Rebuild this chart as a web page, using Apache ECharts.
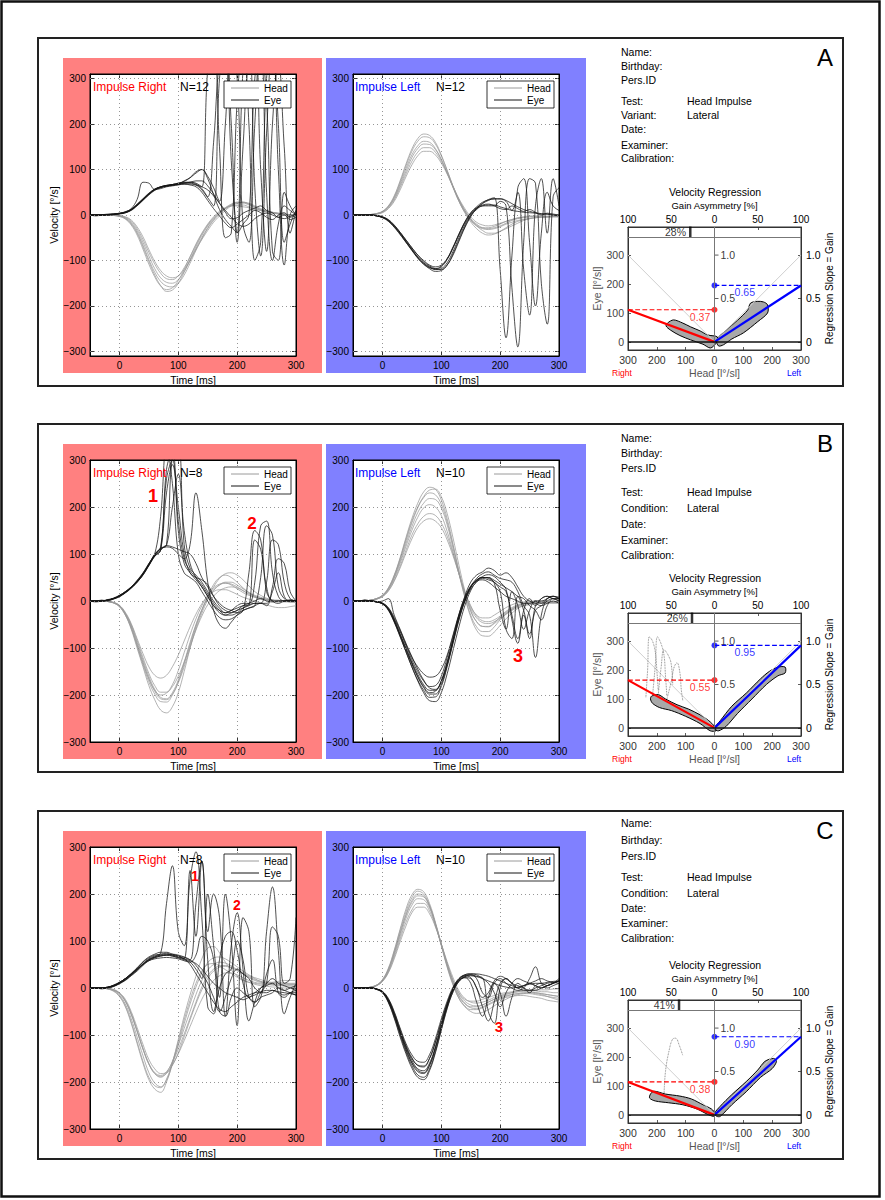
<!DOCTYPE html>
<html>
<head>
<meta charset="utf-8">
<title>Head impulse test - velocity traces and regression</title>
<script src="https://cdn.jsdelivr.net/npm/echarts@6/dist/echarts.min.js"></script>
<style>
  html, body { margin: 0; padding: 0; background: #fff; }
  #main { width: 885px; height: 1200px; }
</style>
</head>
<body>
<div id="main"></div>
<script>
// time base of every velocity trace [ms]
const T = [-50,-40,-30,-20,-10,0, 10,20,30,40,50,60, 70,80,90,100,110,120, 130,140,150,160,170,180, 190,200,210,220,230,240, 250,260,270,280,290,300];

// ---- panel A ----
const headAR = [
  [0,0,0,0,-1,-3, -8,-20,-40,-70,-102,-132, -155,-168,-165,-150,-126,-98, -70,-45,-24,-8,4,14, 20,22,22,18,14,10, 6,4,3,2,0,0],
  [0,0,0,0,-1,-2, -6,-16,-34,-60,-90,-118, -138,-148,-150,-142,-124,-100, -74,-50,-28,-10,4,14, 22,26,26,22,16,10, 8,5,4,2,1,0],
  [0,0,0,0,0,-2, -5,-13,-30,-54,-82,-108, -128,-140,-142,-134,-116,-92, -66,-42,-22,-6,6,16, 24,28,28,24,18,12, 8,5,3,1,0,-2],
  [0,0,0,0,-1,-2, -7,-18,-38,-66,-98,-126, -146,-156,-158,-150,-132,-106, -78,-52,-30,-12,2,14, 22,28,28,24,18,12, 7,4,2,0,0,0],
  [0,0,0,0,0,-1, -4,-11,-26,-48,-76,-102, -122,-134,-138,-134,-120,-100, -76,-54,-34,-16,-2,10, 20,26,28,26,20,14, 9,6,3,1,0,-2],
  [0,0,0,0,-1,-3, -9,-22,-44,-75,-108,-136, -156,-164,-160,-144,-120,-92, -64,-40,-20,-4,8,16, 20,20,18,16,12,10, 8,6,4,2,0,0]
];
const eyeAR = [
  [0,0,0,1,2,3, 5,10,20,32,44,54, 60,63,65,67,68,68, 66,62,55,42,26,10, -5,-18,-25,-20,-8,0, 4,0,-5,-8,-3,2],
  [0,0,1,1,2,4, 6,12,22,34,46,56, 62,65,67,70,72,72, 68,58,40,160,340,380, 200,-60,150,350,380,100, -80,200,340,150,-40,10],
  [0,0,0,0,1,3, 5,11,21,33,45,55, 61,64,66,68,75,82, 92,100,80,45,12,-10, -25,-38,-20,0,300,360, 50,-100,-20,20,10,0],
  [0,-2,0,2,2,3, 7,13,24,36,48,57, 62,65,67,69,71,72, 70,62,320,380,150,-50, -40,250,380,200,-100,-60, 300,380,100,-110,0,20],
  [0,0,0,1,2,4, 7,14,34,72,70,56, 58,62,64,66,68,66, 62,50,32,14,-2,-18, -28,-20,-10,0,10,5, -5,-10,0,5,-5,0],
  [0,0,0,0,1,2, 5,11,22,34,46,56, 61,64,66,68,70,72, 75,75,64,46,26,6, -8,-6,4,10,15,20, 10,5,-5,0,-10,-5],
  [0,0,0,0,1,3, 6,12,23,35,47,57, 62,65,67,70,74,82, 95,100,85,60,30,200, 380,300,-20,-60,200,380, 250,-80,-100,50,20,0],
  [0,0,0,1,2,3, 6,12,22,34,46,56, 61,64,66,68,70,70, 66,55,38,20,300,380, 120,-40,320,380,60,-90, 180,380,200,-60,-20,10]
];
const headAL = [
  [0,0,0,1,3,8, 20,42,75,112,145,168, 178,175,160,132,98,62, 30,5,-15,-30,-40,-44, -42,-36,-28,-20,-14,-10, -8,-6,-5,-4,-3,-2],
  [0,0,0,1,3,7, 18,38,68,102,132,152, 162,160,146,122,92,60, 30,6,-12,-24,-30,-32, -30,-26,-20,-16,-12,-10, -8,-6,-5,-5,-4,-4],
  [0,0,0,1,2,6, 15,33,60,90,118,138, 148,148,138,118,92,62, 34,10,-8,-20,-28,-30, -28,-24,-18,-12,-8,-6, -4,-4,-4,-4,-4,-4],
  [0,0,0,1,3,7, 17,36,64,96,126,146, 156,155,144,122,94,62, 32,8,-10,-22,-28,-28, -25,-20,-14,-10,-6,-4, -2,-2,-2,-3,-3,-3],
  [0,0,0,0,2,5, 14,30,55,84,110,130, 140,140,132,114,90,62, 36,14,-4,-16,-22,-24, -22,-18,-14,-10,-7,-5, -4,-3,-3,-3,-3,-3],
  [0,0,0,1,3,8, 19,40,72,108,140,162, 172,170,156,130,98,64, 34,10,-10,-24,-34,-40, -40,-36,-30,-24,-18,-12, -8,-6,-4,-3,-2,-2]
];
const eyeAL = [
  [0,0,0,0,-2,-5, -12,-25,-40,-58,-75,-92, -105,-114,-120,-118,-105,-80, -50,-22,0,15,25,32, 36,36,32,25,18,12, 8,5,3,2,0,0],
  [0,0,0,0,-1,-4, -10,-22,-38,-55,-72,-88, -102,-112,-118,-120,-110,-88, -58,-28,-4,14,26,34, 38,-120,-270,-90,60,80, -60,-200,-40,50,20,10],
  [0,0,0,0,-2,-6, -14,-27,-43,-60,-78,-95, -108,-118,-124,-122,-110,-85, -55,-26,-2,12,20,20, 20,30,20,-160,-290,-60, 80,70,-150,-240,40,60],
  [0,0,0,0,-2,-5, -13,-26,-42,-60,-77,-93, -106,-115,-119,-114,-98,-72, -42,-15,5,18,28,33, 35,35,30,10,50,-120, -220,20,80,-40,80,20],
  [0,0,0,0,-1,-4, -11,-23,-38,-55,-72,-88, -100,-110,-114,-110,-96,-72, -44,-18,2,14,20,22, 22,18,14,10,8,6, 5,4,2,2,0,-2],
  [0,0,0,0,-2,-5, -12,-24,-40,-58,-76,-94, -108,-116,-118,-112,-96,-70, -42,-16,4,16,22,24, 20,14,12,20,14,8, 12,6,0,4,2,0]
];

// ---- panel B ----
const headBR = [
  [0,0,0,-1,-4,-12, -30,-60,-100,-140,-180,-210, -232,-238,-225,-195,-150,-100, -55,-20,10,35,50,55, 50,40,28,18,10,5, 2,0,-2,-2,-2,-2],
  [0,0,0,-1,-3,-10, -26,-52,-88,-125,-160,-188, -205,-208,-195,-168,-130,-88, -50,-18,8,30,48,58, 60,55,45,32,20,12, 6,2,0,0,-2,-2],
  [0,0,0,-1,-4,-11, -28,-56,-94,-132,-166,-190, -200,-196,-178,-148,-110,-72, -38,-10,12,28,36,38, 34,26,18,12,8,5, 3,2,0,0,0,0],
  [0,0,0,-1,-3,-9, -24,-48,-80,-112,-140,-158, -164,-158,-140,-115,-85,-55, -28,-6,10,20,24,24, 20,14,8,4,0,-4, -8,-12,-14,-14,-12,-10],
  [0,0,0,-1,-4,-12, -30,-58,-96,-136,-172,-198, -214,-215,-200,-172,-134,-92, -52,-20,6,24,34,38, 36,30,22,14,8,4, 2,0,0,0,0,0],
  [0,0,0,-1,-3,-10, -26,-50,-84,-120,-154,-180, -194,-194,-182,-160,-130,-96, -62,-32,-8,10,22,28, 30,28,22,16,10,6, 4,2,0,0,-2,-2],
  [0,0,0,-1,-4,-11, -28,-55,-92,-130,-165,-192, -208,-210,-198,-174,-140,-100, -60,-26,2,22,34,40, 40,34,26,18,12,8, 4,2,2,0,0,-2]
];
const eyeBR = [
  [0,0,0,2,5,10, 18,28,40,56,76,96, 108,280,320,150,80,60, 45,30,10,-10,-25,-30, -25,-20,-10,-5,0,5, 0,-2,0,0,2,0],
  [0,-2,0,3,6,12, 20,30,44,60,80,100, 180,330,250,100,60,50, 40,20,0,-20,-35,-40, -38,-30,-20,60,150,130, 20,0,-5,0,2,0],
  [0,0,2,0,5,11, 19,29,42,58,78,98, 112,120,310,330,120,70, 55,40,20,0,-15,-25, -20,-10,-5,-5,40,160, 170,60,10,0,0,0],
  [0,0,0,2,5,10, 18,28,41,57,77,97, 110,115,112,100,90,120, 230,150,40,-20,-50,-58, -45,-30,-20,-15,-10,50, 160,140,30,5,0,0],
  [0,0,0,1,4,9, 17,27,40,55,75,95, 108,230,290,200,100,60, 50,45,35,10,-10,-20, -25,-20,-15,-10,-5,-5, 40,130,120,40,5,0],
  [0,0,0,2,6,12, 20,30,42,58,78,100, 115,260,300,170,90,65, 50,35,15,-5,-20,-30, -30,-25,-15,-8,-5,-5, -10,30,90,80,20,0],
  [0,-1,0,2,5,11, 19,29,43,59,79,99, 112,118,200,270,150,80, 50,30,10,-10,-20,-25, -20,-15,-10,-8,130,110, 30,0,0,0,0,0],
  [0,0,0,2,5,10, 18,28,40,56,76,96, 108,118,115,110,105,100, 80,50,30,10,-5,-15, -20,-25,-20,-15,-10,-5, -5,20,60,10,0,0]
];
const headBL = [
  [0,0,0,2,5,12, 28,55,92,135,175,208, 232,242,238,215,175,120, 62,10,-30,-55,-65,-65, -55,-40,-28,-18,-10,-6, -4,-2,-2,-2,-2,-2],
  [0,0,0,2,5,12, 26,52,88,128,166,198, 220,230,226,206,168,118, 64,16,-22,-44,-54,-55, -48,-38,-28,-20,-14,-10, -8,-6,-5,-4,-4,-4],
  [0,0,0,1,4,10, 24,48,80,116,150,178, 198,205,200,182,148,104, 58,16,-16,-36,-46,-48, -44,-36,-26,-18,-12,-8, -6,-4,-4,-4,-4,-4],
  [0,0,0,1,4,9, 21,42,70,102,132,156, 170,175,170,156,130,96, 58,20,-10,-32,-42,-44, -40,-32,-22,-14,-8,-4, -2,-2,-2,-2,-2,-2],
  [0,0,0,2,5,11, 25,50,84,122,158,188, 208,218,216,198,162,112, 58,8,-34,-62,-74,-75, -66,-52,-38,-26,-16,-10, -6,-4,-2,-2,-2,-2],
  [0,0,0,1,4,10, 22,44,74,108,140,164, 180,186,182,166,138,100, 58,18,-12,-30,-36,-36, -30,-22,-14,-8,-4,-2, 0,0,0,0,-2,-2],
  [0,0,0,2,5,12, 27,54,90,132,170,200, 222,236,238,222,186,134, 76,22,-20,-44,-54,-54, -46,-34,-24,-16,-10,-6, -4,-4,-4,-4,-4,-4]
];
const eyeBL = [
  [0,0,0,0,-2,-5, -15,-38,-65,-95,-125,-150, -170,-182,-180,-160,-120,-75, -30,5,30,42,45,40, 30,20,10,5,0,-5, -5,0,0,5,10,8],
  [0,0,2,0,-2,-6, -18,-42,-72,-102,-132,-160, -182,-195,-192,-170,-130,-82, -35,0,25,40,48,45, 38,-20,-60,20,-10,-60, -20,0,-5,5,10,5],
  [0,0,0,0,-2,-6, -20,-45,-76,-108,-140,-168, -190,-205,-204,-182,-140,-90, -40,0,28,45,50,50, 40,30,20,-30,-80,-20, 5,-10,5,10,5,5],
  [0,0,0,0,-1,-4, -14,-35,-62,-92,-120,-140, -155,-162,-160,-145,-115,-72, -28,8,32,44,50,48, 40,20,-60,-80,10,-20, -70,-20,-10,0,5,0],
  [0,0,0,0,-2,-6, -18,-44,-75,-108,-140,-170, -195,-212,-214,-195,-155,-105, -55,-10,22,42,52,56, 52,40,25,-40,-90,-30, -80,-10,5,10,5,0],
  [0,0,0,0,-2,0, 5,-30,-60,-90,-118,-145, -168,-185,-188,-172,-135,-88, -40,0,30,48,58,62, 55,48,45,40,20,-10, -30,-120,-30,5,10,5],
  [0,0,0,0,-2,-6, -18,-42,-72,-104,-134,-162, -184,-198,-198,-178,-136,-84, -34,4,30,44,50,50, 44,36,28,20,10,5, -10,-20,-40,-10,5,5],
  [0,0,2,0,-1,-5, -16,-40,-70,-100,-130,-156, -178,-190,-190,-170,-130,-82, -30,10,40,55,62,70, 65,55,60,50,30,10, 0,-5,-10,-5,0,-5]
];

// ---- panel C ----
const headCR = [
  [0,0,0,-2,-7,-18, -40,-75,-118,-160,-195,-215, -222,-200,-160,-110,-60,-15, 25,62,85,88,75,55, 38,26,18,12,8,5, 4,2,2,0,0,0],
  [0,0,0,-2,-5,-15, -34,-65,-104,-144,-180,-202, -210,-196,-162,-120,-76,-34, 2,32,54,64,66,62, 54,45,36,28,20,14, 10,8,6,4,4,2],
  [0,0,0,-1,-4,-12, -28,-56,-92,-130,-162,-182, -190,-180,-156,-122,-86,-50, -14,16,38,50,55,53, 47,39,30,22,16,12, 10,8,8,8,8,8],
  [0,0,0,-1,-3,-10, -24,-50,-84,-120,-152,-172, -182,-180,-164,-138,-104,-68, -34,-4,20,36,44,46, 43,37,30,24,18,14, 12,10,10,10,10,10],
  [0,0,0,-2,-6,-17, -38,-72,-114,-156,-190,-208, -212,-194,-158,-114,-68,-26, 10,36,50,52,47,39, 31,23,16,12,10,8, 8,6,6,6,6,6],
  [0,0,0,-1,-4,-12, -28,-56,-92,-130,-162,-182, -188,-182,-164,-140,-112,-82, -52,-24,-2,16,26,32, 32,28,22,16,12,10, 10,12,14,16,16,16],
  [0,0,0,-1,-4,-11, -27,-54,-90,-128,-160,-180, -186,-178,-158,-130,-98,-64, -30,2,26,40,47,48, 44,38,32,26,22,18, 14,12,12,10,8,8]
];
const eyeCR = [
  [0,0,0,1,4,10, 18,28,40,52,62,68, 72,74,70,66,62,50, 30,10,-10,-30,-45,-50, -40,-30,-20,-15,-10,-8, -5,-5,-8,-10,-12,-15],
  [0,0,0,2,5,11, 20,30,42,55,64,70, 74,180,260,120,90,230, 290,150,-40,-55,60,110, 120,80,10,-20,-10,0, 10,20,10,5,0,-5],
  [0,0,-2,1,6,12, 20,30,40,50,60,66, 70,72,70,68,65,60, 180,270,120,200,150,-60, 90,160,40,-70,-30,0, 5,10,0,-5,0,5],
  [0,0,0,1,4,10, 17,27,38,50,60,66, 70,70,68,64,60,55, 40,20,200,90,-20,200, 100,-80,150,120,-40,-20, 30,60,-10,-20,-10,-5],
  [0,0,0,0,3,9, 16,26,36,48,58,64, 68,70,72,70,66,60, 48,30,10,-20,-50,-20, 20,40,30,20,0,-10, 120,215,80,-55,-20,10],
  [0,0,0,2,5,12, 20,31,43,56,66,72, 76,76,72,68,62,250, 110,270,60,-50,0,30, 40,100,60,-20,-30,-10, 10,130,110,10,20,150],
  [0,0,0,1,4,10, 18,28,39,51,60,65, 68,70,68,65,62,58, 52,40,25,10,0,-10, -15,-20,-25,-20,-15,-10, -10,-5,-10,-15,-10,-10],
  [0,0,0,2,6,12, 20,30,40,50,58,62, 64,65,64,62,58,55, 70,110,100,60,-50,-60, -20,0,-10,-20,-30,-20, -15,-10,0,-5,-10,-15]
];
const headCL = [
  [0,0,0,2,6,18, 42,80,125,168,198,210, 205,180,140,92,46,8, -22,-40,-50,-54,-52,-46, -38,-30,-24,-18,-14,-12, -10,-10,-12,-14,-16,-18],
  [0,0,0,2,6,16, 38,74,116,156,186,200, 196,174,136,92,48,10, -18,-34,-42,-44,-40,-34, -28,-22,-18,-14,-12,-10, -10,-12,-14,-18,-22,-26],
  [0,0,0,1,5,14, 34,66,104,140,166,180, 180,164,132,92,52,16, -12,-28,-36,-38,-36,-30, -24,-18,-14,-10,-8,-6, -6,-6,-8,-8,-10,-10],
  [0,0,0,1,5,14, 32,62,98,132,160,172, 172,158,130,94,56,22, -6,-22,-30,-32,-30,-26, -20,-16,-12,-10,-8,-8, -8,-10,-12,-14,-16,-18],
  [0,0,0,2,6,17, 40,78,122,162,192,206, 200,176,136,90,44,6, -22,-38,-46,-46,-42,-36, -30,-24,-20,-18,-16,-16, -18,-20,-22,-26,-28,-30],
  [0,0,0,1,5,15, 36,70,110,148,176,190, 188,170,136,94,52,16, -10,-24,-28,-28,-24,-20, -16,-12,-10,-8,-6,-4, -4,-4,-4,-4,-2,-2],
  [0,0,0,2,6,16, 38,74,116,154,182,196, 194,174,138,94,50,12, -16,-32,-40,-40,-36,-30, -24,-20,-16,-14,-12,-12, -12,-14,-16,-18,-20,-22]
];
const eyeCL = [
  [0,0,0,0,-2,-8, -25,-55,-92,-125,-150,-165, -168,-150,-115,-72,-32,-2, 18,26,28,25,20,15, 10,5,2,0,2,5, 8,10,10,12,14,15],
  [0,0,0,0,-3,-10, -30,-62,-100,-136,-165,-185, -190,-172,-135,-88,-42,-8, 14,22,20,0,-40,-70, -30,10,20,10,0,5, 10,15,20,15,12,10],
  [0,0,0,0,-2,-9, -28,-58,-95,-130,-158,-175, -180,-164,-128,-82,-38,-4, 16,22,10,-30,-60,-20, 10,-10,-60,-20,10,0, -10,5,10,5,10,15],
  [0,0,0,0,-2,-7, -22,-50,-85,-118,-142,-156, -158,-142,-108,-66,-28,2, 20,28,30,30,28,25, 20,15,10,5,0,-5, -5,0,5,10,12,14],
  [0,0,0,0,-3,-10, -31,-64,-104,-140,-170,-190, -195,-176,-138,-90,-44,-8, 14,24,28,20,-10,-20, 10,20,10,0,-5,0, 20,45,10,0,5,10],
  [0,0,0,0,-2,-8, -26,-56,-92,-126,-154,-172, -176,-160,-125,-80,-36,0, 20,28,30,28,20,10, -10,-40,-10,10,20,15, 10,5,0,5,10,15],
  [0,0,0,0,-2,-9, -27,-58,-96,-132,-160,-178, -182,-165,-128,-82,-38,-4, 18,26,22,0,-20,-10, 15,25,20,10,5,0, -5,-5,0,5,10,15],
  [0,0,0,0,-2,-8, -24,-52,-88,-122,-148,-164, -166,-150,-116,-74,-34,-2, 16,24,26,24,22,-50, -75,0,20,10,0,5, 10,5,0,5,10,20]
];

// regression results per panel (A, B, C)
const gainRight = [0.37, 0.55, 0.38];
const gainLeft = [0.65, 0.95, 0.90];
const asymmetry = [28, 26, 41];
const trialsRight = [12, 8, 8];
const trialsLeft = [12, 10, 10];

// contour outlines of the head/eye velocity clouds [head, eye]
const cloudAR = [[-163,65],[-142,76],[-110,65],[-83,52],[-50,38],[-24,24],[10,17],[5,-5],[-14,-21],[-40,-8],[-83,7],[-120,22],[-153,41],[-168,55]];
const cloudAL = [[7,7],[40,40],[80,75],[115,110],[125,134],[148,140],[170,138],[184,128],[184,100],[150,70],[100,31],[60,10],[31,-10],[14,-14]];
const cloudBR = [[-218,110],[-195,115],[-170,100],[-130,80],[-90,65],[-50,45],[-20,25],[0,5],[5,-10],[-15,-10],[-50,15],[-100,40],[-150,60],[-190,70],[-215,85],[-222,100]];
const cloudBL = [[0,0],[20,25],[60,75],[110,120],[160,170],[190,195],[220,210],[245,210],[245,190],[220,180],[180,150],[130,100],[80,50],[40,5],[15,-10],[5,-8]];
const cloudCR = [[-222,72],[-210,82],[-170,72],[-120,65],[-80,55],[-40,35],[-10,20],[2,5],[0,-5],[-20,0],[-60,20],[-110,35],[-160,42],[-205,48],[-225,58]];
const cloudCL = [[0,5],[20,30],[60,70],[110,115],[150,155],[175,185],[205,195],[215,185],[200,160],[160,130],[110,80],[60,35],[20,-5],[8,-5]];

// dotted saccade loops in the regression plots
const loopsB = [
  [[-238,106],[-232,200],[-226,315],[-215,300],[-205,260],[-200,200],[-195,130]],
  [[-215,110],[-205,220],[-198,315],[-185,290],[-175,250],[-170,180],[-165,110]],
  [[-195,115],[-185,210],[-175,270],[-160,250],[-150,220],[-145,150]],
  [[-165,100],[-150,160],[-140,210],[-130,225],[-120,190],[-115,130],[-110,95]]
];
const loopsC = [
  [[-175,70],[-170,150],[-158,220],[-145,262],[-135,265],[-122,240],[-110,205]]
];

const FONT = "'Liberation Sans', Arial, Helvetica, sans-serif";
const DY = [0, 386, 773];
const LETTERS = ['A', 'B', 'C'];
const HEAD_COL = '#9a9a9a', EYE_COL = '#151515';

const panels = [
  {heads: [headAR, headAL], eyes: [eyeAR, eyeAL], lim: 310, clouds: [cloudAR, cloudAL], loops: [], mode: 'Variant:',
   infoY: [52, 66, 80, 101, 115, 129, 145, 158], marks: []},
  {heads: [headBR, headBL], eyes: [eyeBR, eyeBL], lim: 300, clouds: [cloudBR, cloudBL], loops: loopsB, mode: 'Condition:',
   infoY: [438, 453, 468, 492, 508, 524, 540, 555],
   marks: [['1', 153, 496, 18], ['2', 252, 523, 17], ['3', 518, 656, 18]]},
  {heads: [headCR, headCL], eyes: [eyeCR, eyeCL], lim: 300, clouds: [cloudCR, cloudCL], loops: loopsC, mode: 'Condition:',
   infoY: [823, 840, 856, 877, 893, 908, 923, 938],
   marks: [['1', 195, 876, 14], ['2', 237, 905, 14], ['3', 499, 1026, 15]]}
];

const grids = [], xAxes = [], yAxes = [], series = [], graphics = [];

function txt(x, y, text, size, color, align, weight) {
  return {type: 'text', z: 60, silent: true, style: {
    x: x, y: y, text: text, fill: color || '#000', fontSize: size || 10.5, fontFamily: FONT,
    fontWeight: weight || 'normal', align: align || 'left', textAlign: align || 'left',
    verticalAlign: 'middle', textVerticalAlign: 'middle'}};
}
function minus(v) { return v < 0 ? '\u2212' + (-v) : String(v); }

function velPlot(left, top, lim, heads, eyes, withName) {
  const gi = grids.length, xi = xAxes.length, yi = yAxes.length;
  grids.push({left: left, top: top, width: 206, height: 282, show: true,
    backgroundColor: '#fff', borderColor: '#000', borderWidth: 1});
  const xt = [0, 100, 200, 300];
  const yt = [-300, -200, -100, 0, 100, 200, 300];
  const axLine = {onZero: false, lineStyle: {color: '#000', width: 1}};
  const tick = vals => ({show: true, inside: true, length: 4, customValues: vals, lineStyle: {color: '#000', width: 0.8}});
  xAxes.push({gridIndex: gi, type: 'value', min: -50, max: 300, position: 'bottom', axisLine: axLine, axisTick: tick(xt),
    axisLabel: {customValues: xt, fontSize: 10, color: '#000', margin: 4}, splitLine: {show: false},
    name: 'Time [ms]', nameLocation: 'middle', nameGap: 18, nameTextStyle: {fontSize: 10.5, color: '#000'}});
  xAxes.push({gridIndex: gi, type: 'value', min: -50, max: 300, position: 'top', axisLine: axLine, axisTick: tick(xt),
    axisLabel: {show: false}, splitLine: {show: false}});
  yAxes.push({gridIndex: gi, type: 'value', min: -lim, max: lim, position: 'left', axisLine: axLine, axisTick: tick(yt),
    axisLabel: {customValues: yt, fontSize: 10, color: '#000', margin: 4, formatter: minus}, splitLine: {show: false},
    name: withName ? 'Velocity [\u00b0/s]' : '', nameLocation: 'middle', nameGap: 27,
    nameTextStyle: {fontSize: 10.5, color: '#000'}});
  yAxes.push({gridIndex: gi, type: 'value', min: -lim, max: lim, position: 'right', axisLine: axLine, axisTick: tick(yt),
    axisLabel: {show: false}, splitLine: {show: false}});

  const gridLines = [0, 100, 200].map(v => ({xAxis: v}))
    .concat(yt.filter(v => Math.abs(v) < lim).map(v => ({yAxis: v})));
  const trace = (arr, color, extra) => Object.assign({
    type: 'line', xAxisIndex: xi, yAxisIndex: yi, data: T.map((t, i) => [t, arr[i]]),
    symbol: 'none', smooth: 0.4, silent: true, clip: true, animation: false,
    emphasis: {disabled: true}, lineStyle: {color: color, width: 0.75}
  }, extra || {});
  heads.forEach((arr, k) => series.push(trace(arr, HEAD_COL, k === 0 ? {
    markLine: {silent: true, symbol: ['none', 'none'], label: {show: false}, animation: false,
      lineStyle: {type: [1, 3], color: '#8a8a8a', width: 0.9}, data: gridLines}
  } : null)));
  eyes.forEach(arr => series.push(trace(arr, EYE_COL)));

  // legend box
  const bx = left + 206 - 72, by = top + 7;
  graphics.push({type: 'rect', z: 50, silent: true, shape: {x: bx, y: by, width: 67, height: 27},
    style: {fill: '#fff', stroke: '#000', lineWidth: 0.8}});
  graphics.push({type: 'line', z: 51, silent: true, shape: {x1: bx + 7, y1: by + 7, x2: bx + 35, y2: by + 7},
    style: {stroke: HEAD_COL, lineWidth: 1}});
  graphics.push({type: 'line', z: 51, silent: true, shape: {x1: bx + 7, y1: by + 19, x2: bx + 35, y2: by + 19},
    style: {stroke: EYE_COL, lineWidth: 1}});
  graphics.push(txt(bx + 40, by + 7.5, 'Head', 10));
  graphics.push(txt(bx + 40, by + 19.5, 'Eye', 10));
}

function regPlot(dy, gR, gL, asym, clouds, loops) {
  const gi = grids.length, xi = xAxes.length, yi = yAxes.length;
  grids.push({left: 628, top: 227 + dy, width: 173, height: 123, show: true,
    backgroundColor: '#fff', borderColor: '#333', borderWidth: 1});
  const axLine = {onZero: false, lineStyle: {color: '#333', width: 1}};
  const tick = vals => ({show: true, inside: true, length: 3, customValues: vals, lineStyle: {color: '#333', width: 0.8}});
  const hx = [-300, -200, -100, 0, 100, 200, 300], ax = [-100, -50, 0, 50, 100];
  const ey = [0, 100, 200, 300], gy = [0, 0.5, 1];
  const abs = v => String(Math.abs(v));
  xAxes.push({gridIndex: gi, type: 'value', min: -300, max: 300, position: 'bottom', axisLine: axLine, axisTick: tick(hx),
    axisLabel: {customValues: hx, formatter: abs, fontSize: 10.5, color: '#333', margin: 4}, splitLine: {show: false},
    name: 'Head [l\u00b0/sl]', nameLocation: 'middle', nameGap: 17, nameTextStyle: {fontSize: 10.5, color: '#555'}});
  xAxes.push({gridIndex: gi, type: 'value', min: -100, max: 100, position: 'top', axisLine: axLine, axisTick: tick(ax),
    axisLabel: {customValues: ax, formatter: abs, fontSize: 10, color: '#000', margin: 3}, splitLine: {show: false},
    name: 'Gain Asymmetry [%]', nameLocation: 'middle', nameGap: 17, nameTextStyle: {fontSize: 9.5, color: '#000'}});
  yAxes.push({gridIndex: gi, type: 'value', min: -28, max: 397, position: 'left', axisLine: axLine, axisTick: tick(ey),
    axisLabel: {customValues: ey, fontSize: 10.5, color: '#444', margin: 4}, splitLine: {show: false},
    name: 'Eye [l\u00b0/sl]', nameLocation: 'middle', nameGap: 24, nameTextStyle: {fontSize: 10.5, color: '#555'}});
  yAxes.push({gridIndex: gi, type: 'value', min: -28 / 300, max: 397 / 300, position: 'right', axisLine: axLine, axisTick: tick(gy),
    axisLabel: {customValues: gy, formatter: v => v === 0 ? '0' : v.toFixed(1), fontSize: 10.5, color: '#000', margin: 5},
    splitLine: {show: false},
    name: 'Regression Slope = Gain', nameLocation: 'middle', nameGap: 20, nameTextStyle: {fontSize: 10, color: '#000'}});

  const base = {xAxisIndex: xi, yAxisIndex: yi, silent: true, animation: false, emphasis: {disabled: true}};
  const line = (data, color, width, type, extra) => Object.assign({type: 'line', data: data, symbol: 'none',
    lineStyle: {color: color, width: width, type: type || 'solid'}}, base, extra || {});

  // gain = 1 reference lines, centre line, strip border and zero line
  series.push(line([[-300, 300], [0, 0], [300, 300]], '#cfcfcf', 1, 'solid', {
    markLine: {silent: true, symbol: ['none', 'none'], label: {show: false}, animation: false, data: [
      {xAxis: 0, lineStyle: {color: '#777', width: 1, type: 'solid'}},
      {yAxis: 362, lineStyle: {color: '#777', width: 1, type: 'solid'}},
      {yAxis: 0, lineStyle: {color: '#111', width: 1.5, type: 'solid'}}]}
  }));
  clouds.forEach(pts => series.push(Object.assign({
    type: 'custom', data: pts, clip: true, encode: {x: 0, y: 1},
    renderItem: (params, api) => params.dataIndex !== 0 ? null : {
      type: 'polygon', shape: {points: pts.map(p => api.coord(p)), smooth: 0.3},
      style: {fill: 'rgba(110,110,110,0.6)', stroke: '#000', lineWidth: 1}}
  }, base)));
  loops.forEach(pts => series.push(line(pts, '#666', 0.8, 'dotted', {smooth: 0.4})));

  const yR = gR * 300, yL = gL * 300;
  series.push(line([[-300, yR], [0, 0]], '#ff0000', 2.2));
  series.push(line([[0, 0], [300, yL]], '#0000ff', 2.2));
  series.push(line([[-300, yR], [0, yR]], '#ff0000', 1.2, 'dashed'));
  series.push(line([[0, yL], [300, yL]], '#0000ff', 1.2, 'dashed'));
  series.push(Object.assign({type: 'scatter', data: [[0, yR]], symbolSize: 6, itemStyle: {color: '#ff0000'}}, base));
  series.push(Object.assign({type: 'scatter', data: [[0, yL]], symbolSize: 6, itemStyle: {color: '#0000ff'}}, base));
  // gain values under the dashed lines
  series.push(Object.assign({type: 'scatter', data: [[-50, yR, gR.toFixed(2)]], symbolSize: 1,
    itemStyle: {color: 'rgba(0,0,0,0)'},
    label: {show: true, position: 'bottom', distance: 1, formatter: p => p.value[2], color: '#ff0000', fontSize: 10.5}}, base));
  series.push(Object.assign({type: 'scatter', data: [[105, yL, gL.toFixed(2)]], symbolSize: 1,
    itemStyle: {color: 'rgba(0,0,0,0)'},
    label: {show: true, position: 'bottom', distance: 1, formatter: p => p.value[2], color: '#0000ff', fontSize: 10.5}}, base));
  // gain ticks on the centre line
  series.push(Object.assign({type: 'scatter', data: [[0, 300, '1.0'], [0, 150, '0.5']], symbol: 'rect',
    symbolSize: [4, 1], symbolOffset: [2, 0], itemStyle: {color: '#333'},
    label: {show: true, position: 'right', distance: 2, formatter: p => p.value[2], color: '#000', fontSize: 10.5}}, base));
  // asymmetry marker in the top strip
  series.push(Object.assign({type: 'scatter', xAxisIndex: xi + 1, data: [[-asym, 379.5]], symbol: 'rect',
    symbolSize: [2.5, 11], itemStyle: {color: '#000'},
    label: {show: true, position: 'left', distance: 3, formatter: asym + '%', color: '#000', fontSize: 10.5}},
    {yAxisIndex: yi, silent: true, animation: false, emphasis: {disabled: true}}));
}

// outer frame
graphics.push({type: 'rect', z: 70, silent: true, shape: {x: 1.5, y: 1.5, width: 878, height: 1195},
  style: {fill: 'none', stroke: '#111', lineWidth: 2.5}});

panels.forEach((p, k) => {
  const dy = DY[k];
  graphics.push({type: 'rect', z: 70, silent: true, shape: {x: 38, y: 38 + dy, width: 805, height: 348},
    style: {fill: 'none', stroke: '#222', lineWidth: 2}});
  graphics.push({type: 'rect', z: -10, silent: true, shape: {x: 63, y: 58 + dy, width: 259, height: 315},
    style: {fill: '#ff8080'}});
  graphics.push({type: 'rect', z: -10, silent: true, shape: {x: 326, y: 58 + dy, width: 260, height: 315},
    style: {fill: '#8080ff'}});

  const topV = 74 + dy;
  velPlot(90, topV, p.lim, p.heads[0], p.eyes[0], true);
  velPlot(353, topV, p.lim, p.heads[1], p.eyes[1], false);
  graphics.push(txt(93, topV + 13, 'Impulse Right', 12, '#ff0000'));
  graphics.push(txt(180, topV + 13, 'N=' + trialsRight[k], 12, '#000'));
  graphics.push(txt(355, topV + 13, 'Impulse Left', 12, '#0000ff'));
  graphics.push(txt(436, topV + 13, 'N=' + trialsLeft[k], 12, '#000'));
  p.marks.forEach(m => graphics.push(txt(m[1], m[2], m[0], m[3], '#ff0000', 'center', 'bold')));

  regPlot(dy, gainRight[k], gainLeft[k], asymmetry[k], p.clouds, p.loops);
  graphics.push(txt(715, 192 + dy, 'Velocity Regression', 10.5, '#000', 'center'));
  graphics.push(txt(622, 373 + dy, 'Right', 8.5, '#ff0000', 'center'));
  graphics.push(txt(794, 373 + dy, 'Left', 8.5, '#0000ff', 'center'));

  // patient / test info
  const labels = ['Name:', 'Birthday:', 'Pers.ID', 'Test:', p.mode, 'Date:', 'Examiner:', 'Calibration:'];
  labels.forEach((s, i) => graphics.push(txt(621, p.infoY[i], s, 10.5)));
  graphics.push(txt(687, p.infoY[3], 'Head Impulse', 10.5));
  graphics.push(txt(687, p.infoY[4], 'Lateral', 10.5));
  graphics.push(txt(825, 57 + dy, LETTERS[k], 24, '#000', 'center'));
});

const chart = echarts.init(document.getElementById('main'), null, {renderer: 'svg', width: 885, height: 1200});
chart.setOption({
  animation: false,
  backgroundColor: '#fff',
  textStyle: {fontFamily: FONT},
  grid: grids,
  xAxis: xAxes,
  yAxis: yAxes,
  series: series,
  graphic: {elements: graphics}
});
</script>
</body>
</html>
